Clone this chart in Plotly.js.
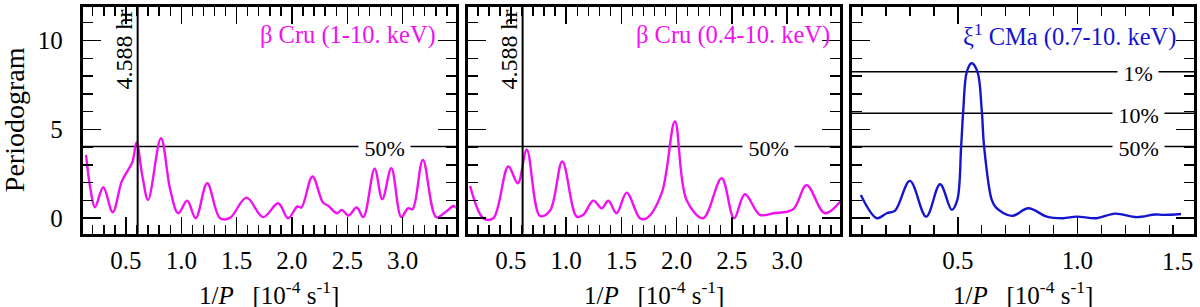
<!DOCTYPE html>
<html>
<head>
<meta charset="utf-8">
<script src="https://cdn.plot.ly/plotly-3.0.1.min.js"></script>
<style>html,body{margin:0;padding:0;background:#fff;}#plot{width:1200px;height:307px;}</style>
</head>
<body>
<div id="plot"></div>
<script>
// ---- data ----
const freqA = [0.139,0.18,0.22,0.295,0.38,0.461,0.52,0.56,0.596,0.65,0.70,0.816,0.90,0.972,1.053,1.13,1.234,1.35,1.44,1.589,1.739,1.875,1.965,2.049,2.085,2.185,2.28,2.33,2.407,2.45,2.51,2.585,2.645,2.747,2.816,2.898,2.988,3.048,3.09,3.183,3.304,3.394,3.46,3.49];
const powA  = [3.56,1.6,0.62,1.74,0.34,2.06,2.72,3.2,4.26,2.3,1.03,4.5,1.6,0.28,0.98,0.0,1.97,0.0,0.02,1.16,0.06,0.84,0.0,0.66,0.6,2.35,0.88,0.69,0.28,0.47,0.15,0.6,0.06,2.78,1.07,2.81,0.06,0.56,0.51,3.28,0.06,0.38,0.69,0.56];

const freqB = [0.13,0.25,0.34,0.476,0.562,0.643,0.763,0.854,0.965,1.095,1.155,1.246,1.322,1.382,1.457,1.548,1.668,1.729,1.865,1.985,2.09,2.24,2.408,2.52,2.619,2.754,2.875,3.056,3.177,3.343,3.49];
const powB  = [1.82,0.0,0.0,2.91,1.97,3.85,0.13,0.43,3.19,0.09,0.19,0.99,0.56,0.98,0.28,1.44,0.0,0.0,1.41,5.44,1.03,0.0,2.25,0.0,1.35,0.19,0.28,0.51,1.86,0.28,0.99];

const freqC = [0.095,0.162,0.203,0.238,0.30,0.368,0.426,0.475,0.498,0.514,0.523,0.538,0.558,0.582,0.60,0.61,0.642,0.66,0.726,0.795,0.872,0.94,0.997,1.08,1.157,1.248,1.324,1.36,1.433];
const powC  = [1.31,0.0,0.28,0.43,2.1,0.09,1.91,0.47,1.03,4.03,6.1,8.25,8.72,8.25,6.1,4.03,1.03,0.6,0.13,0.56,0.09,0.0,0.09,0.0,0.26,0.06,0.21,0.19,0.24];

const periodHr = 4.588;               // marked period
const levelsAB = [4.03];              // false-alarm levels, panels 1-2
const labelsAB = ['50%'];
const levelsC  = [8.25, 5.91, 4.03];  // false-alarm levels, panel 3
const labelsC  = ['1%', '10%', '50%'];
const titles   = ['β Cru (1-10. keV)', 'β Cru (0.4-10. keV)', 'ξ<sup>1</sup> CMa (0.7-10. keV)'];
const yTickVals = [0, 5, 10];
const xTickAB = [0.5, 1.0, 1.5, 2.0, 2.5, 3.0];
const xTickC  = [0.5, 1.0];
const xTickCEdge = 1.5;
const xTitle = '1/<i>P</i>&nbsp;&nbsp;&nbsp;[10<sup>-4</sup>&nbsp;s<sup>-1</sup>]';
const yTitle = 'Periodogram';

// ---- style ----
const MAG = '#f010f0', BLU = '#1515d0';
const FONT = '"Liberation Serif", "Times New Roman", serif';
const markFreq = 1e4 / (periodHr * 3600);
const NB = '\u00a0';

function xax(domain, range, tickvals) {
  return {
    domain: domain, range: range, showgrid: false, zeroline: false,
    showline: true, linewidth: 3, linecolor: '#000', mirror: 'allticks',
    ticks: 'inside', ticklen: 17, tickwidth: 1.6, tickcolor: '#000',
    tickvals: tickvals, ticktext: tickvals.map(v => v.toFixed(1)), ticklabelstandoff: 2,
    minor: {dtick: 0.1, tick0: 0, ticks: 'inside', ticklen: 9, tickwidth: 1.4, tickcolor: '#000'},
    tickfont: {family: FONT, size: 25, color: '#000'},
    fixedrange: true
  };
}
function yax(anchor, showlabels) {
  return {
    domain: [0.2394, 0.9779], range: [-0.86, 11.9], anchor: anchor, showgrid: false, zeroline: false,
    showline: true, linewidth: 3, linecolor: '#000', mirror: 'allticks',
    ticks: 'inside', ticklen: 18, tickwidth: 1.6, tickcolor: '#000',
    tickvals: yTickVals, ticktext: yTickVals.map(v => String(v) + NB + NB), showticklabels: showlabels,
    minor: {dtick: 1, tick0: 0, ticks: 'inside', ticklen: 10, tickwidth: 1.4, tickcolor: '#000'},
    tickfont: {family: FONT, size: 25, color: '#000'},
    fixedrange: true
  };
}

const traces = [
  {x: freqA, y: powA, xaxis: 'x', yaxis: 'y', mode: 'lines', line: {color: MAG, width: 2.4, shape: 'spline', smoothing: 1}, hoverinfo: 'skip'},
  {x: freqB, y: powB, xaxis: 'x2', yaxis: 'y2', mode: 'lines', line: {color: MAG, width: 2.4, shape: 'spline', smoothing: 1}, hoverinfo: 'skip'},
  {x: freqC, y: powC, xaxis: 'x3', yaxis: 'y3', mode: 'lines', line: {color: BLU, width: 2.4, shape: 'spline', smoothing: 1}, hoverinfo: 'skip'}
];

const shapes = [], annotations = [];
function hline(xr, yr, v) {
  shapes.push({type: 'line', xref: xr + ' domain', yref: yr, x0: 0, x1: 1, y0: v, y1: v, line: {color: '#000', width: 1.5}, layer: 'below'});
}
function pctLabel(xr, yr, xv, v, t) {
  annotations.push({xref: xr, yref: yr, x: xv, y: v, text: '&nbsp;' + t + '&nbsp;', showarrow: false, bgcolor: '#fff', borderpad: 0,
    font: {family: FONT, size: 22, color: '#000'}, xanchor: 'center', yanchor: 'middle', yshift: -2});
}
levelsAB.forEach((v, i) => { hline('x', 'y', v); hline('x2', 'y2', v); pctLabel('x', 'y', 2.84, v, labelsAB[i]); pctLabel('x2', 'y2', 2.83, v, labelsAB[i]); });
levelsC.forEach((v, i) => { hline('x3', 'y3', v); pctLabel('x3', 'y3', 1.253, v, labelsC[i]); });

[['x', 'y'], ['x2', 'y2']].forEach(([xr, yr]) => {
  shapes.push({type: 'line', xref: xr, yref: yr + ' domain', x0: markFreq, x1: markFreq, y0: 0, y1: 1, line: {color: '#000', width: 2}});
  annotations.push({xref: xr, yref: yr + ' domain', x: markFreq, y: 1, text: periodHr.toFixed(3) + ' hr', textangle: -90, showarrow: false,
    xanchor: 'right', yanchor: 'top', xshift: 1, yshift: -1, font: {family: FONT, size: 24, color: '#000'}});
});
const titleX = [0.952, 0.9785, 0.953];
[['x', 'y', MAG], ['x2', 'y2', MAG], ['x3', 'y3', BLU]].forEach(([xr, yr, c], i) => {
  annotations.push({xref: xr + ' domain', yref: yr + ' domain', x: titleX[i], y: 0.875, text: titles[i], showarrow: false,
    xanchor: 'right', yanchor: 'middle', font: {family: FONT, size: 24.5, color: c}});
  // axis title under each panel
  annotations.push({xref: xr + ' domain', yref: 'paper', x: 0.5, y: (307 - 293) / 307, text: xTitle, showarrow: false,
    xanchor: 'center', yanchor: 'middle', font: {family: FONT, size: 25, color: '#000'}});
});
// y-axis title
annotations.push({xref: 'paper', yref: 'y domain', x: 14 / 1200, y: 0.5, text: yTitle, textangle: -90, showarrow: false,
  xanchor: 'center', yanchor: 'middle', font: {family: FONT, size: 28, color: '#000'}});
// right-edge tick label of panel 3 kept inside the page
annotations.push({xref: 'paper', yref: 'paper', x: 1195 / 1200, y: (307 - 261.5) / 307, text: xTickCEdge.toFixed(1), showarrow: false,
  xanchor: 'right', yanchor: 'middle', font: {family: FONT, size: 25, color: '#000'}});

const layout = {
  width: 1200, height: 307, margin: {l: 0, r: 0, t: 0, b: 0},
  paper_bgcolor: '#fff', plot_bgcolor: '#fff', showlegend: false,
  xaxis: Object.assign(xax([0.0693, 0.3798], [0.113, 3.48], xTickAB), {anchor: 'y'}),
  xaxis2: Object.assign(xax([0.3902, 0.7], [0.113, 3.48], xTickAB), {anchor: 'y2'}),
  xaxis3: Object.assign(xax([0.7096, 0.9954], [0.056, 1.489], xTickC), {anchor: 'y3'}),
  yaxis: yax('x', true),
  yaxis2: yax('x2', false),
  yaxis3: yax('x3', false),
  shapes: shapes, annotations: annotations
};
Plotly.newPlot('plot', traces, layout, {staticPlot: true, displayModeBar: false});
</script>
</body>
</html>
